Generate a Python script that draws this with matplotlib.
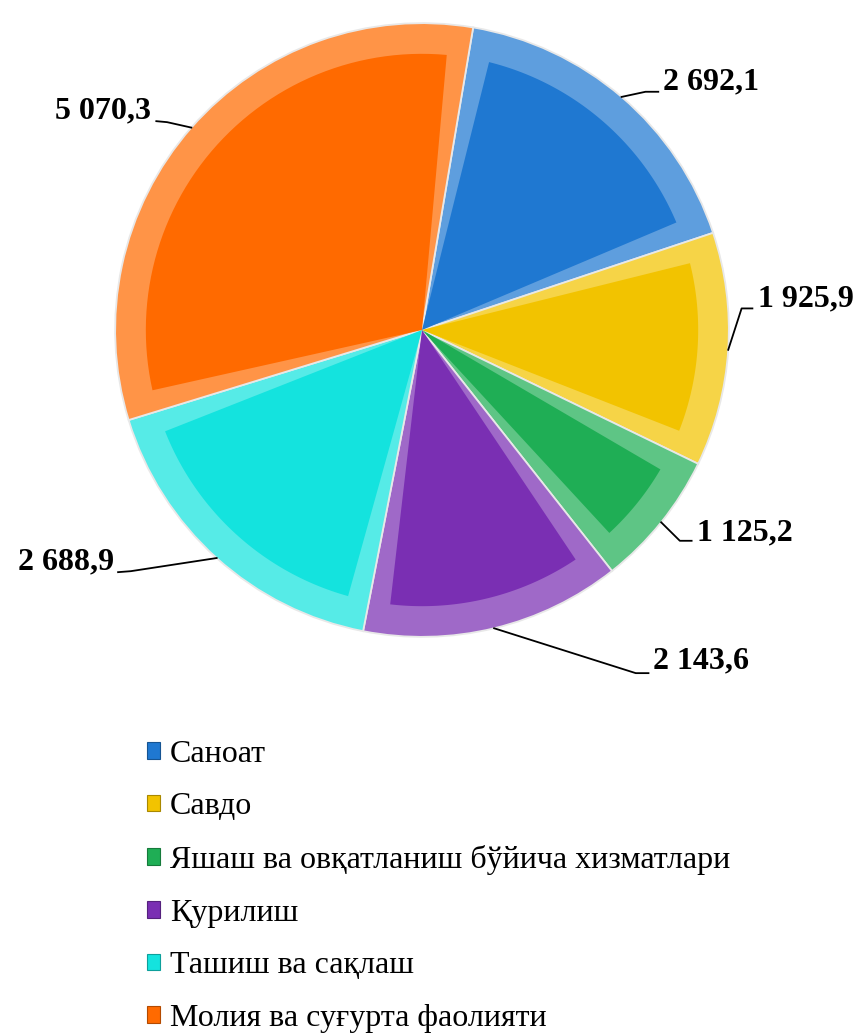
import matplotlib.pyplot as plt
import matplotlib.colors as mcolors
from matplotlib.patches import Polygon, Patch
import numpy as np

categories = ['Саноат', 'Савдо', 'Яшаш ва овқатланиш бўйича хизматлари',
              'Қурилиш', 'Ташиш ва сақлаш', 'Молия ва суғурта фаолияти']
values = [2692.1, 1925.9, 1125.2, 2143.6, 2688.9, 5070.3]
value_labels = ['2 692,1', '1 925,9', '1 125,2', '2 143,6', '2 688,9', '5 070,3']
colors = ['#1f78d1', '#f2c300', '#1fae55', '#7a2fb3', '#14e3de', '#ff6a00']

plt.rcParams['font.family'] = ['Liberation Serif', 'DejaVu Serif']

W, H = 863, 1036
cx, cy, R = 422, 330, 313

fig = plt.figure(figsize=(W / 100, H / 100), dpi=100)
ax = fig.add_axes([(cx - R) / W, (H - cy - R) / H, 2 * R / W, 2 * R / H])

wedges, _ = ax.pie(values, colors=colors, startangle=80.4, counterclock=False,
                   radius=1, wedgeprops=dict(edgecolor='#e8e8e8', linewidth=1.3))
ax.set_xlim(-1.02, 1.02)
ax.set_ylim(-1.02, 1.02)
ax.set_aspect('equal')
ax.axis('off')

# bevel look: lighter rim, base colour facet converging on the centre
for w, c in zip(wedges, colors):
    base = np.array(mcolors.to_rgb(c))
    w.set_facecolor(base + (1 - base) * 0.28)
    t1, t2 = sorted((w.theta1, w.theta2))
    d = np.rad2deg(0.07 / 0.9)
    th = np.deg2rad(np.linspace(t1 + d, t2 - d, 60))
    pts = np.vstack([[0, 0], np.column_stack([0.9 * np.cos(th), 0.9 * np.sin(th)])])
    ax.add_patch(Polygon(pts, closed=True, facecolor=c, edgecolor='none'))


def px(x, y):
    return ((x - cx) / R, (cy - y) / R)


# label positions (pixels): text xy, alignment, elbow point, line end
label_pos = [
    ((668, 77), 'left', (650, 87), (663, 87)),
    ((765, 298), 'left', (748, 308), (759, 308)),
    ((703, 537), 'left', (685, 545), (697, 545)),
    ((658, 668), 'left', (640, 680), (653, 680)),
    ((108, 567), 'right', (125, 576), (112, 577)),
    ((146, 107), 'right', (162, 118), (151, 117)),
]

for w, lab, (txy, ha, elbow, end) in zip(wedges, value_labels, label_pos):
    mid = np.deg2rad((w.theta1 + w.theta2) / 2)
    ex, ey = px(*elbow)
    nx, ny = px(*end)
    ax.plot([np.cos(mid), ex, nx], [np.sin(mid), ey, ny], color='black',
            lw=1.3, clip_on=False)
    tx, ty = px(*txy)
    ax.text(tx, ty, lab, ha=ha, va='center', fontsize=23, fontweight='bold',
            clip_on=False)

handles = [Patch(facecolor=c, edgecolor=np.array(mcolors.to_rgb(c)) * 0.7,
                 linewidth=0.8) for c in colors]
fig.legend(handles, categories, loc='upper left',
           bbox_to_anchor=(118 / W, 1 - 711 / H), frameon=False,
           fontsize=23, handlelength=0.42, handleheight=0.42,
           handletextpad=0.3, labelspacing=0.74)

fig.savefig('out.png', dpi=100)
